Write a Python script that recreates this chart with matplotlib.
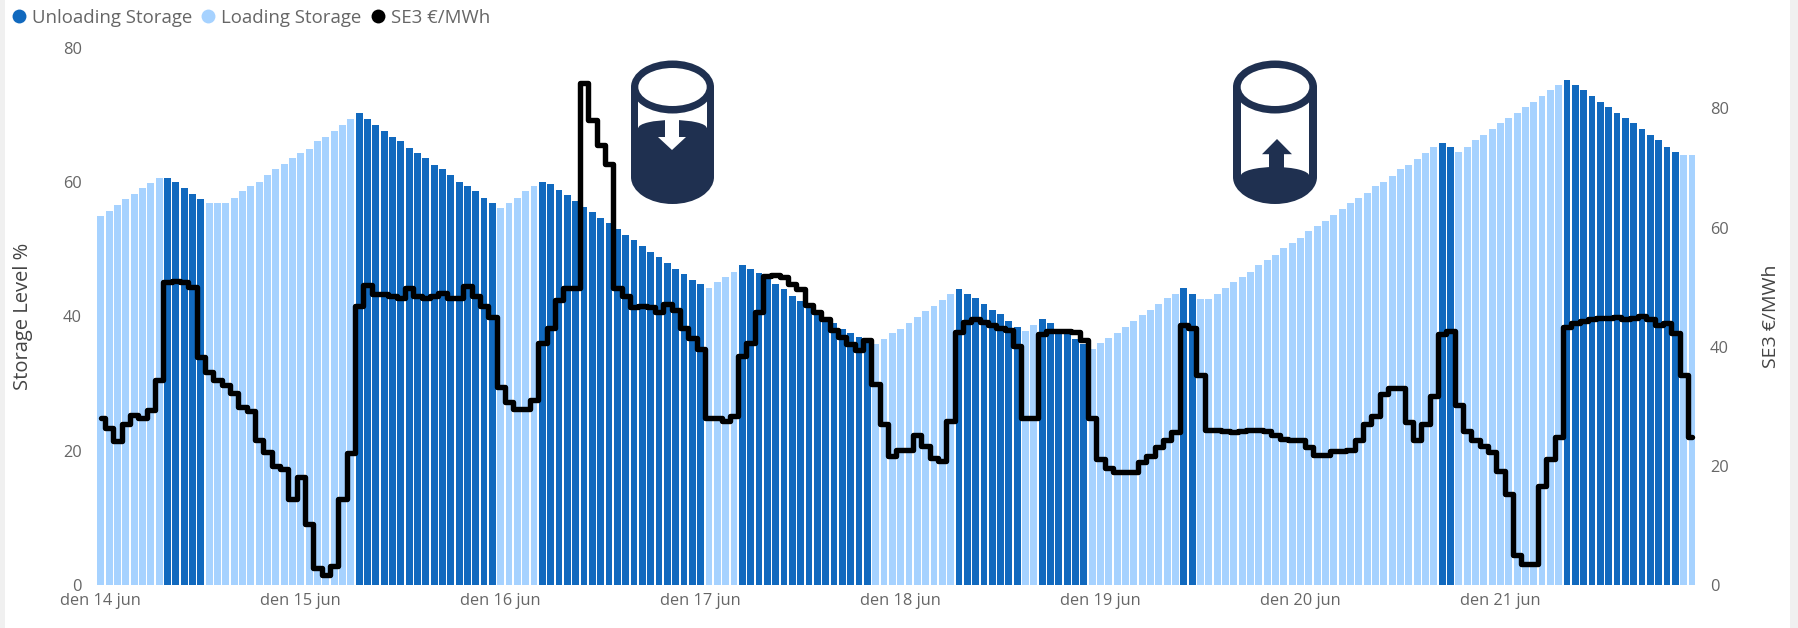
import matplotlib
matplotlib.use("Agg")
import matplotlib.pyplot as plt
from matplotlib.lines import Line2D
from matplotlib.patches import Ellipse, Rectangle, Polygon
import numpy as np

plt.rcParams['font.family'] = ['Open Sans', 'DejaVu Sans']

W, H = 1799, 628

storage_level = [
 54.9,55.7,56.6,57.5,58.2,59.2,59.9,60.7,60.7,60.0,59.2,58.2,57.5,56.9,56.9,56.9,57.6,58.7,59.4,60.1,
 61.1,61.9,62.7,63.6,64.4,65.0,66.1,66.8,67.7,68.6,69.4,70.3,69.4,68.6,67.7,66.8,66.1,65.1,64.4,63.6,
 62.6,61.9,61.1,60.1,59.4,58.7,57.6,56.9,56.1,56.9,57.6,58.7,59.4,60.1,59.7,58.8,58.1,57.2,56.3,55.5,
 54.7,53.9,53.0,52.1,51.4,50.5,49.6,48.9,47.9,47.1,46.4,45.4,44.8,44.2,45.2,45.9,46.7,47.7,47.1,46.5,
 45.8,44.9,44.1,43.1,42.3,41.5,40.8,39.9,39.1,38.2,37.5,37.0,36.8,35.9,36.6,37.5,38.2,39.1,39.9,40.8,
 41.5,42.5,43.3,44.1,43.4,42.7,41.9,40.9,40.3,39.4,38.5,37.9,38.8,39.6,39.0,38.2,37.4,36.6,35.9,35.1,
 36.0,36.8,37.6,38.5,39.3,40.2,41.0,41.8,42.7,43.4,44.2,43.4,42.6,42.6,43.4,44.2,45.2,45.9,46.7,47.7,
 48.4,49.2,50.2,50.9,51.7,52.7,53.5,54.2,55.1,56.0,56.9,57.7,58.4,59.4,60.1,61.0,61.9,62.6,63.4,64.4,
 65.2,65.9,65.3,64.5,65.3,66.3,67.1,67.9,68.8,69.6,70.3,71.2,72.0,72.9,73.8,74.5,75.3,74.5,73.8,72.9,
 72.0,71.2,70.3,69.6,68.8,67.9,67.1,66.3,65.3,64.5,64.0,64.0]

unloading_hours = ([8,9,10,11,12] + list(range(31,48)) + list(range(53,73)) + list(range(77,93))
                   + list(range(103,111)) + list(range(113,119)) + [130,131,161,162] + list(range(176,190)))

se3_price = [
 28.0,26.3,24.1,27.0,28.6,28.1,29.4,34.4,50.9,51.0,50.8,50.1,38.2,35.8,34.4,33.5,32.2,29.8,29.2,24.3,
 22.3,20.0,19.4,14.5,18.2,10.2,2.8,1.7,3.2,14.5,22.1,46.9,50.4,48.8,48.8,48.5,48.1,49.8,48.5,48.1,
 48.6,49.1,48.1,48.1,50.2,48.5,46.8,45.0,33.2,30.7,29.5,29.6,31.1,40.7,43.2,47.8,49.9,49.8,84.2,78.0,
 73.8,70.7,49.9,48.5,46.7,46.9,46.6,45.9,47.1,46.1,43.1,41.4,39.7,28.1,28.0,27.6,28.3,38.4,40.7,45.8,
 51.8,52.0,51.7,50.6,49.7,47.0,45.8,44.6,42.8,41.6,40.4,39.4,41.2,33.7,27.1,21.6,22.6,22.6,25.1,23.3,
 21.4,20.9,27.5,42.4,44.2,44.6,44.2,43.6,43.1,42.8,40.1,28.0,28.0,42.1,42.6,42.7,42.7,42.4,41.2,28.1,
 21.2,19.7,18.9,18.9,19.0,20.7,21.6,23.2,24.4,25.7,43.6,43.2,35.2,26.1,26.0,25.9,25.7,25.9,26.1,26.1,
 25.9,25.1,24.5,24.3,24.4,23.1,21.9,21.9,22.5,22.5,22.6,24.4,27.0,28.4,32.0,33.1,33.0,27.3,24.4,27.1,
 31.7,42.1,42.7,30.2,25.9,24.3,23.3,22.3,19.1,15.2,5.1,3.6,3.6,16.7,21.2,24.9,43.3,43.9,44.4,44.7,
 44.8,44.9,45.0,44.7,44.9,45.1,44.7,43.6,43.9,42.3,35.2,24.8]

day_labels = ['den 14 jun','den 15 jun','den 16 jun','den 17 jun',
              'den 18 jun','den 19 jun','den 20 jun','den 21 jun']
left_ticks = [0,20,40,60,80]
right_ticks = [0,20,40,60,80]
series_names = ['Unloading Storage','Loading Storage','SE3 €/MWh']

DARK='#1169BE'; LIGHT='#A6D2FF'; TXT='#666666'; LAB='#444444'; ICON='#1F3050'

fig = plt.figure(figsize=(W/100,H/100),dpi=100,facecolor='white')

# grey side strips of the screenshot
fig.patches.append(Rectangle((0,0),5/W,1,transform=fig.transFigure,fc='#F0F0F0',ec='none'))
fig.patches.append(Rectangle((1790/W,0),9/W,1,transform=fig.transFigure,fc='#F0F0F0',ec='none'))

x0,x1,ytop,ybot = 96.7,1696.2,48,585
ax = fig.add_axes([x0/W,1-ybot/H,(x1-x0)/W,(ybot-ytop)/H])
ax.patch.set_alpha(0)
hours = np.arange(len(storage_level))
unl = set(unloading_hours)
cols = [DARK if h in unl else LIGHT for h in hours]
ax.bar(hours,storage_level,width=0.82,color=cols,linewidth=0,zorder=2)
ax.set_xlim(-0.5,191.5)
ax.set_ylim(0,80)
ax.set_yticks(left_ticks)
ax.set_xticks(np.arange(0,192,24))
ax.set_xticklabels(day_labels)
ax.tick_params(axis='y',length=0,labelsize=11.8,labelcolor=TXT,pad=10.5)
ax.tick_params(axis='x',length=0,labelsize=11.8,labelcolor=TXT,pad=6)
for s in ax.spines.values(): s.set_visible(False)
ax.set_ylabel('Storage Level %',fontsize=14.5,color=LAB)
ax.yaxis.set_label_coords((33-x0)/(x1-x0),0.5)

ax2 = ax.twinx()
ax2.plot(hours,se3_price,drawstyle='steps-mid',color='black',lw=3.9,
         solid_joinstyle='round',solid_capstyle='round',zorder=5,clip_on=False)
ax2.set_ylim(0,90.15)
ax2.set_yticks(right_ticks)
ax2.tick_params(axis='y',length=0,labelsize=11.8,labelcolor=TXT,pad=10)
for s in ax2.spines.values(): s.set_visible(False)
ax2.set_ylabel('SE3 €/MWh',fontsize=14,color=LAB)
ax2.yaxis.set_label_coords((1762-x0)/(x1-x0),0.5)

handles=[Line2D([],[],ls='',marker='o',ms=10,mfc=c,mec='none') for c in (DARK,LIGHT,'black')]
leg=fig.legend(handles,series_names,loc='upper left',bbox_to_anchor=(9.7/W,1-9/H),ncol=3,frameon=False,
           fontsize=13.4,labelcolor=TXT,handlelength=1.0,handletextpad=0.2,columnspacing=0.36,borderpad=0,borderaxespad=0)

# storage icons in a pixel-coordinate overlay
ov = fig.add_axes([0,0,1,1],zorder=10)
ov.set_xlim(0,W); ov.set_ylim(H,0); ov.axis('off'); ov.patch.set_alpha(0)

def silhouette(cx,half):
    ov.add_patch(Rectangle((cx-half,87),2*half,90,fc=ICON,ec='none'))
    ov.add_patch(Ellipse((cx,177),2*half,54,fc=ICON,ec='none'))

def top_ring(cx,half,inner):
    ov.add_patch(Ellipse((cx,87),2*half,53,fc=ICON,ec='none'))
    ov.add_patch(Ellipse((cx,87),2*inner,38,fc='white',ec='none'))

# storage being unloaded
cx=672.5
silhouette(cx,41.5)
ov.add_patch(Rectangle((cx-34.2,87),68.4,41,fc='white',ec='none'))
ov.add_patch(Ellipse((cx,128),68.4,16,fc=ICON,ec='none'))
top_ring(cx,41.5,34.2)
ov.add_patch(Rectangle((665,120),14,17,fc='white',ec='none'))
ov.add_patch(Polygon([(658,137),(686,137),(672,150)],fc='white',ec='none'))

# storage being loaded
cx=1275
silhouette(cx,42)
ov.add_patch(Rectangle((cx-34.3,87),68.6,89,fc='white',ec='none'))
ov.add_patch(Ellipse((cx,176),68.6,18,fc=ICON,ec='none'))
top_ring(cx,42,34.3)
ov.add_patch(Rectangle((1269.5,153),14.5,16,fc=ICON,ec='none'))
ov.add_patch(Polygon([(1262,154.2),(1292,154.2),(1277,139)],fc=ICON,ec='none'))

fig.savefig('out.png',dpi=100,facecolor='white')
